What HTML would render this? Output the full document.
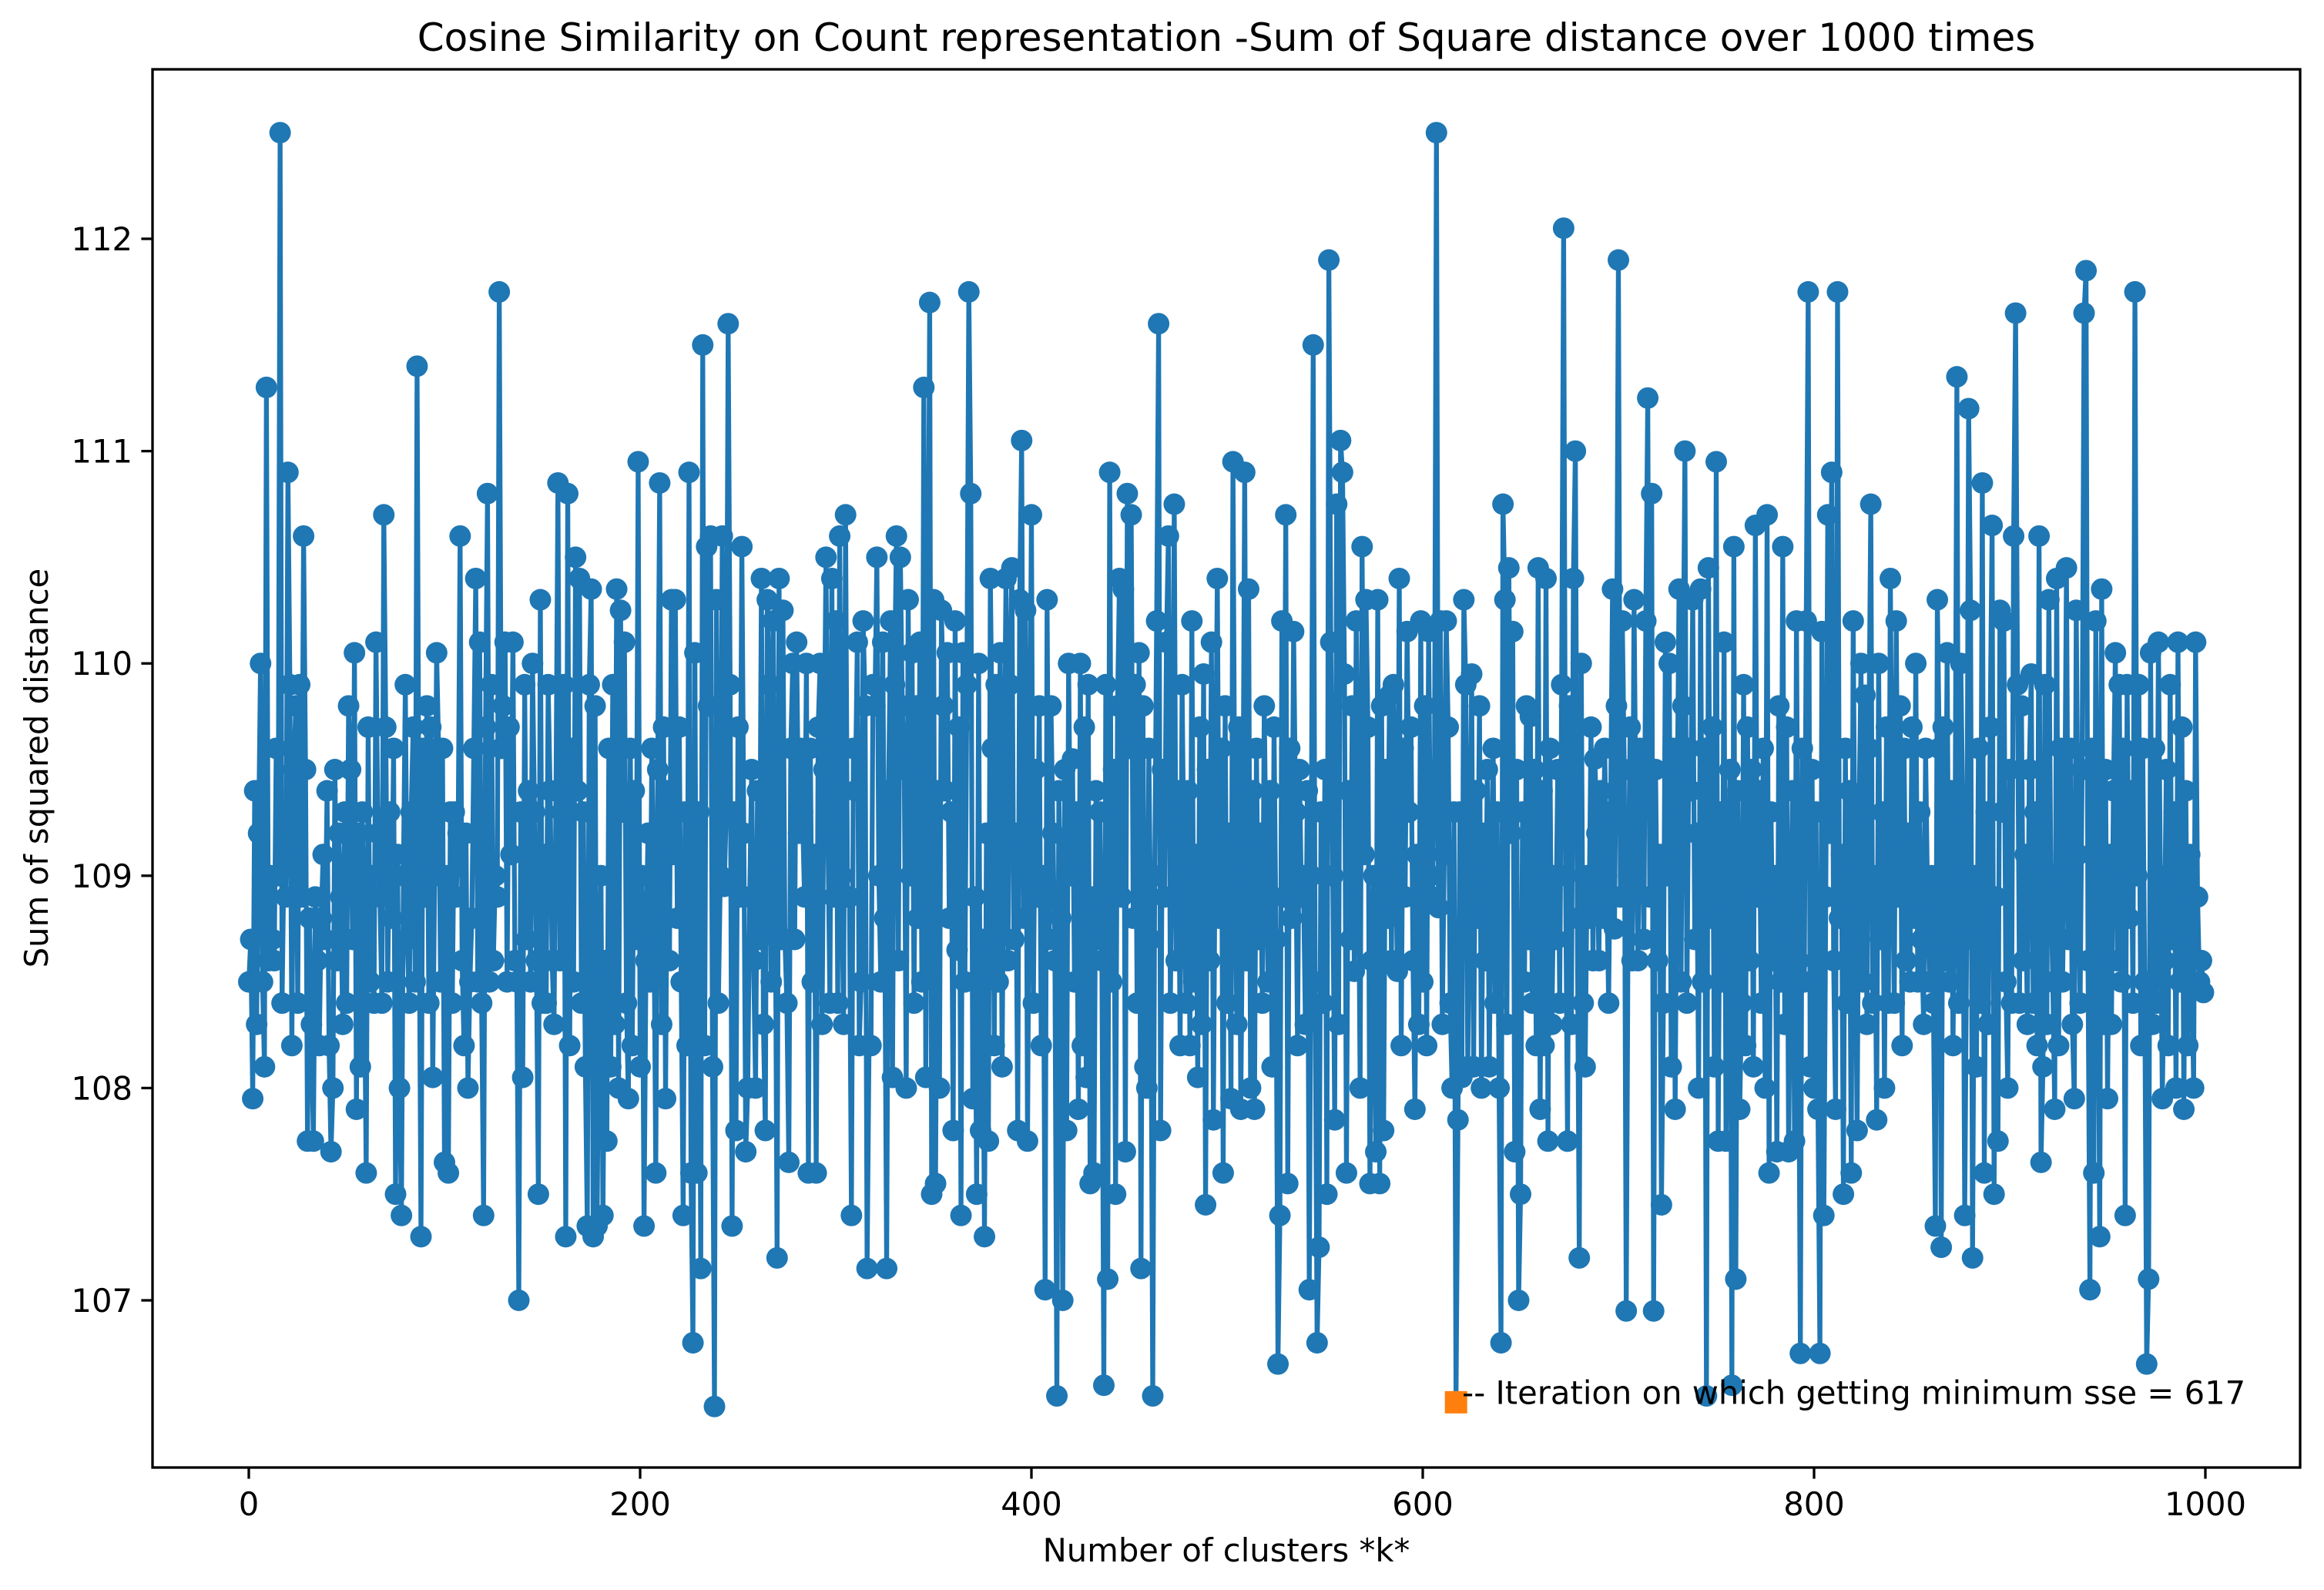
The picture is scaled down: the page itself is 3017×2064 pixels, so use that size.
<!DOCTYPE html>
<html><head><meta charset="utf-8"><style>
html,body{margin:0;padding:0;background:#fff}
svg{display:block}
text{font-family:"DejaVu Sans","Liberation Sans",sans-serif;fill:#000}
</style></head><body>
<svg id="chart" width="3017" height="2064" viewBox="0 0 3017 2064" xmlns="http://www.w3.org/2000/svg">
<text x="1592" y="66" font-size="50" text-anchor="middle">Cosine Similarity on Count representation -Sum of Square distance over 1000 times</text>
<g id="plot"></g>
<text x="1592" y="2027" font-size="41.7" text-anchor="middle">Number of clusters *k*</text>
<text transform="translate(62,997) rotate(-90)" font-size="41.7" text-anchor="middle">Sum of squared distance</text>
</svg>
<script>
const xTicks = [0, 200, 400, 600, 800, 1000];
const yTicks = [107, 108, 109, 110, 111, 112];
const minIndex = 617;
const minValue = 106.52;
const annotationLabel = "-- Iteration on which getting minimum sse = 617";
const sseValues = [
108.5,108.7,107.95,109.4,108.3,109.2,110.0,108.5,108.1,111.3,108.6,109.0,108.7,108.6,109.6,109.0,112.5,108.4,109.1,108.9,
110.9,109.9,108.2,109.5,109.8,108.4,109.9,108.9,110.6,109.5,107.75,108.8,108.3,107.75,108.9,108.6,108.2,108.8,109.1,108.7,
109.4,108.2,107.7,108.0,109.5,108.6,109.2,108.9,108.3,109.3,108.4,109.8,109.5,108.7,110.05,107.9,109.2,108.1,109.3,108.6,
107.6,109.7,108.5,109.0,108.4,110.1,109.2,108.9,108.4,110.7,109.7,108.5,109.3,108.8,109.6,107.5,109.1,108.0,107.4,109.0,
109.9,108.7,108.4,109.3,109.7,108.5,111.4,109.0,107.3,109.6,108.9,109.8,108.4,109.7,108.05,109.0,110.05,109.6,108.5,109.6,
107.65,109.0,107.6,109.3,108.4,109.3,108.9,109.2,110.6,108.6,108.2,109.2,108.0,108.5,108.8,109.6,110.4,108.5,110.1,108.4,
107.4,109.7,110.8,108.5,109.9,108.6,109.0,108.9,111.75,109.6,109.8,110.1,108.5,109.7,109.1,110.1,108.6,108.5,107.0,109.3,
108.05,109.9,108.7,109.4,108.5,110.0,109.3,108.6,107.5,110.3,108.4,109.1,108.4,109.9,109.4,108.6,108.3,109.4,110.85,108.6,
109.3,109.9,107.3,110.8,108.2,109.6,108.5,110.5,109.4,110.4,108.4,109.3,108.1,107.35,109.9,110.35,107.3,109.8,107.35,108.5,
109.0,107.4,108.6,107.75,109.6,108.1,109.9,108.3,110.35,108.0,110.25,109.3,110.1,108.4,107.95,109.6,108.2,109.4,108.7,110.95,
108.1,109.0,107.35,108.6,109.2,108.5,109.6,108.9,107.6,109.5,110.85,108.3,109.7,107.95,109.4,108.6,110.3,109.1,110.3,108.8,
109.7,108.5,107.4,109.3,108.2,110.9,107.6,106.8,110.05,107.6,109.3,107.15,111.5,108.2,110.55,109.8,110.6,108.1,106.5,110.3,
108.4,109.0,110.6,108.95,109.3,111.6,109.9,107.35,109.3,107.8,109.7,108.9,110.55,109.2,107.7,108.0,108.9,109.5,108.6,108.0,
109.4,108.7,110.4,108.3,107.8,110.3,109.9,108.5,110.2,109.1,107.2,110.4,108.7,110.25,108.7,108.4,107.65,109.6,110.0,108.7,
110.1,109.2,109.6,109.3,108.9,110.0,107.6,109.6,108.5,109.1,107.6,109.7,110.0,108.3,109.5,110.5,109.2,108.4,110.4,108.9,
110.2,108.4,110.6,109.0,108.3,110.7,108.9,108.9,107.4,109.6,109.4,110.1,108.2,108.5,110.2,109.8,107.15,108.2,108.2,109.9,
109.8,110.5,109.0,108.5,110.1,108.8,107.15,109.4,110.2,108.05,109.9,110.6,108.6,110.5,109.8,109.5,108.0,110.3,109.0,110.05,
108.4,109.8,108.8,110.1,108.5,111.3,108.05,109.8,111.7,107.5,110.3,107.55,109.4,108.0,110.25,109.8,109.4,110.05,108.8,109.3,
107.8,110.2,108.65,109.7,107.4,110.05,108.5,109.9,111.75,110.8,107.95,108.9,107.5,110.0,107.8,108.7,107.3,109.2,107.75,110.4,
109.6,108.2,109.9,108.5,110.05,108.1,109.4,110.4,108.6,109.9,110.45,108.7,109.2,107.8,110.3,111.05,108.8,110.25,107.75,109.3,
110.7,108.4,109.5,108.9,109.8,108.2,109.0,107.05,110.3,108.7,109.8,109.2,108.6,106.55,109.4,108.8,107.0,109.5,107.8,110.0,
109.0,109.55,108.5,109.3,107.9,110.0,108.2,109.7,108.05,109.9,107.55,108.9,107.6,109.4,108.7,109.3,108.6,106.6,109.9,107.1,
110.9,108.5,109.5,107.5,109.8,110.4,108.9,110.35,107.7,110.8,109.6,110.7,108.8,109.9,108.4,110.05,107.15,109.8,108.1,108.0,
109.6,108.7,106.55,109.0,110.2,111.6,107.8,109.5,108.9,110.1,110.6,108.4,109.2,110.75,108.6,109.4,108.2,109.9,109.0,108.4,
109.4,108.2,110.2,108.5,109.1,108.05,109.7,108.3,109.95,107.45,109.5,108.6,110.1,107.85,109.3,110.4,108.8,109.6,107.6,109.8,
108.4,109.2,107.95,110.95,109.1,108.3,109.7,107.9,109.0,110.9,108.6,110.35,108.0,109.4,107.9,109.6,108.7,109.2,108.4,109.8,
109.0,108.5,109.4,108.1,109.7,108.7,106.7,107.4,110.2,108.9,110.7,107.55,109.6,108.8,110.15,109.3,108.2,109.5,108.9,109.0,
108.3,109.4,107.05,109.0,111.5,108.5,106.8,107.25,109.3,108.4,109.5,107.5,111.9,110.1,109.0,107.85,110.75,108.3,111.05,110.9,
109.95,107.6,109.4,108.7,109.8,108.55,110.2,109.3,108.0,110.55,109.1,110.3,109.7,107.55,108.6,109.0,107.7,110.3,107.55,109.8,
107.8,109.5,108.8,109.85,108.6,109.9,109.2,108.55,110.4,108.2,109.6,108.9,110.15,109.3,109.7,108.6,107.9,109.1,108.3,110.2,
108.5,109.8,108.2,110.15,109.0,108.9,109.5,112.5,108.85,110.2,108.3,109.1,110.2,109.7,108.4,108.0,109.3,106.52,107.85,109.3,
108.05,110.3,109.9,108.1,109.0,109.95,108.1,109.4,108.8,109.8,108.0,109.2,108.6,109.5,108.1,109.0,109.6,108.4,109.3,108.0,
106.8,110.75,110.3,108.3,110.45,109.2,110.15,107.7,109.5,107.0,107.5,109.3,108.5,109.8,108.7,109.75,108.4,109.5,108.2,110.45,
107.9,109.4,108.2,110.4,107.75,109.6,108.3,109.0,108.7,109.5,108.4,109.9,112.05,109.0,107.75,109.8,108.3,110.4,111.0,108.8,
107.2,110.0,108.4,108.1,109.0,108.8,109.7,108.6,109.55,109.2,108.6,109.4,108.8,109.6,109.0,108.4,109.3,110.35,108.75,109.8,
111.9,108.9,110.2,109.5,106.95,108.9,109.7,108.6,110.3,109.2,108.6,109.6,109.4,108.7,110.2,111.25,108.9,110.8,106.95,109.5,
108.6,109.1,107.45,108.4,110.1,109.0,110.0,108.1,109.6,107.9,109.3,110.35,108.5,109.8,111.0,108.4,109.6,109.4,110.3,108.7,
109.2,108.0,110.35,108.5,109.6,106.55,110.45,108.8,109.7,108.1,110.95,107.75,109.3,108.5,110.1,107.75,108.9,109.5,106.6,110.55,
107.1,109.4,107.9,108.4,109.9,108.2,109.7,108.6,109.5,108.1,110.65,108.9,109.4,108.4,109.6,108.0,110.7,107.6,109.3,108.6,
109.0,107.7,109.8,108.5,110.55,108.3,109.7,107.7,108.7,109.4,107.75,110.2,108.6,106.75,109.6,108.5,110.2,111.75,108.1,109.5,
108.0,109.3,107.9,106.75,110.15,107.4,108.9,110.7,109.2,110.9,108.6,107.9,111.75,108.8,109.1,107.5,109.6,108.4,109.4,107.6,
110.2,108.9,107.8,109.3,110.0,108.5,109.85,108.3,109.6,110.75,108.4,109.0,107.85,110.0,108.7,109.3,108.0,109.7,108.4,110.4,
109.1,108.4,110.2,108.9,109.8,108.2,109.6,108.6,109.2,108.5,109.7,108.8,110.0,108.5,109.3,108.7,108.3,109.6,108.9,108.5,
109.0,108.4,107.35,110.3,109.6,107.25,109.7,108.6,110.05,108.5,109.4,108.2,109.0,111.35,108.4,110.0,109.3,107.4,108.7,111.2,
110.25,107.2,109.0,108.1,109.6,108.4,110.85,107.6,109.3,108.3,109.7,110.65,107.5,108.9,107.75,110.25,109.3,110.2,108.5,108.0,
109.5,108.4,110.6,111.65,109.9,108.4,109.8,108.6,109.1,108.3,109.5,109.95,108.4,109.3,108.2,110.6,107.65,108.1,109.9,108.3,
110.3,109.0,108.5,107.9,110.4,108.2,109.6,108.5,109.1,110.45,108.7,109.6,108.3,107.95,110.25,109.1,108.4,109.5,111.65,111.85,
108.6,107.05,109.6,107.6,110.2,109.0,107.3,110.35,108.3,109.5,107.95,109.1,108.3,109.4,110.05,108.6,109.9,108.5,109.6,107.4,
109.9,108.8,109.4,108.4,111.75,109.0,109.9,108.2,109.6,108.5,106.7,107.1,110.05,108.3,109.6,108.4,110.1,109.0,107.95,108.6,
109.5,108.2,109.9,108.7,109.3,108.0,110.1,108.5,109.7,107.9,109.4,108.2,109.1,108.6,108.0,110.1,108.9,108.5,108.6,108.45
];

const NS = "http://www.w3.org/2000/svg";
const L = 198, R = 2986, T = 90, B = 1905;
function xs(v){ return 323 + (v - 0) * (2863 - 323) / 1000; }
function ys(v){ return 1688 + (v - 107) * (310 - 1688) / 5; }
const plot = document.getElementById('plot');
function mk(tag, attrs, parent){
  const e = document.createElementNS(NS, tag);
  for (const k in attrs) e.setAttribute(k, attrs[k]);
  (parent || plot).appendChild(e);
  return e;
}
let d = "";
sseValues.forEach((v, i) => { d += (i ? "L" : "M") + xs(i).toFixed(2) + "," + ys(v).toFixed(2); });
const line = mk('path', {d: d, fill: 'none', stroke: '#1f77b4', 'stroke-width': 6.25, 'stroke-linejoin': 'round'});


const pts = mk('g', {fill: '#1f77b4'});


sseValues.forEach((v, i) => {
  const c = mk('circle', {cx: xs(i).toFixed(2), cy: ys(v).toFixed(2), r: 14}, pts);
  
  
});
const sq = mk('rect', {x: xs(minIndex) - 14.5, y: ys(minValue) - 14.5, width: 29, height: 29, fill: '#ff7f0e'});


const ann = mk('text', {x: xs(minIndex) + 8, y: ys(minValue) + 2, 'font-size': 41.7});
ann.textContent = annotationLabel;


const frame = mk('rect', {x: L, y: T, width: R - L, height: B - T, fill: 'none', stroke: '#000', 'stroke-width': 3.3});


xTicks.forEach(t => {
  const x = xs(t);
  const tk = mk('line', {x1: x, x2: x, y1: B, y2: B + 14.6, stroke: '#000', 'stroke-width': 3.3});
  
  
  const lb = mk('text', {x: x, y: B + 62, 'font-size': 41.7, 'text-anchor': 'middle'});
  lb.textContent = t;
  
  
});
yTicks.forEach(t => {
  const y = ys(t);
  const tk = mk('line', {x1: L - 14.6, x2: L, y1: y, y2: y, stroke: '#000', 'stroke-width': 3.3});
  
  
  const lb = mk('text', {x: L - 26, y: y + 15, 'font-size': 41.7, 'text-anchor': 'end'});
  lb.textContent = t;
  
  
});
</script>
</body></html>
